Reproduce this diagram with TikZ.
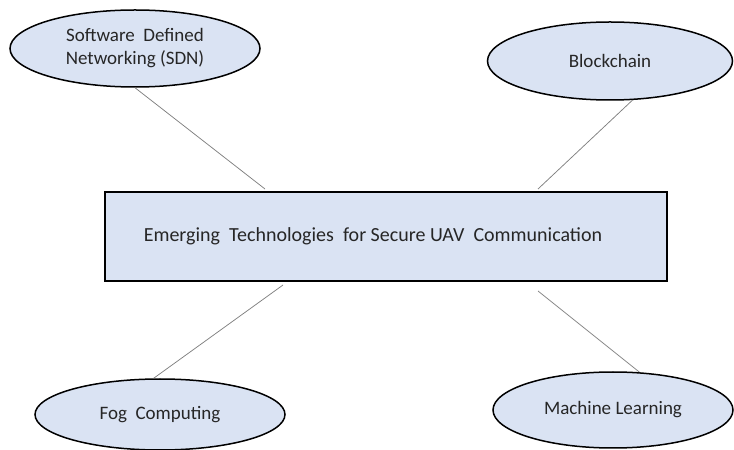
\documentclass[tikz,border=0pt]{standalone}
\usepackage{fontspec}
\setmainfont{Carlito}
\usetikzlibrary{shapes.geometric}
\definecolor{boxfill}{HTML}{DAE3F3}
\definecolor{linkgray}{HTML}{808080}
\tikzset{
  topic/.style={ellipse, draw=black, line width=1.5pt, fill=boxfill, inner sep=0pt,
    align=center, font=\fontsize{19}{23}\selectfont, text=black!85},
  mainbox/.style={rectangle, draw=black, line width=1.5pt, fill=boxfill, inner sep=0pt,
    minimum width=562pt, minimum height=89pt, font=\fontsize{20}{24}\selectfont, text=black!85},
  link/.style={draw=linkgray, line width=0.75pt}
}
\begin{document}
\begin{tikzpicture}[x=1pt,y=1pt]
\useasboundingbox (0,0) rectangle (734,450);
\node[mainbox] (main) at (386,213.5) {\hspace*{-26pt}Emerging\ \ Technologies\ \ for Secure UAV\ \ Communication};
\node[topic, minimum width=250pt, minimum height=77pt] (sdn) at (135,401.5) {Software\ \ Defined\\Networking (SDN)};
\node[topic, minimum width=245pt, minimum height=78pt] (bc) at (610,389) {Blockchain};
\node[topic, minimum width=250pt, minimum height=71pt] (fog) at (160,35.5) {Fog\ \ Computing};
\node[topic, minimum width=240pt, minimum height=76pt] (ml) at (613,40) {Machine Learning};
\coordinate (c1) at (265,261);
\coordinate (c2) at (538,261);
\coordinate (c3) at (283,165);
\coordinate (c4) at (538,159);
\draw[link] (sdn.south) -- (c1);
\draw[link] (bc.-60) -- (c2);
\draw[link] (fog.100) -- (c3);
\draw[link] (ml.55) -- (c4);
\end{tikzpicture}
\end{document}
